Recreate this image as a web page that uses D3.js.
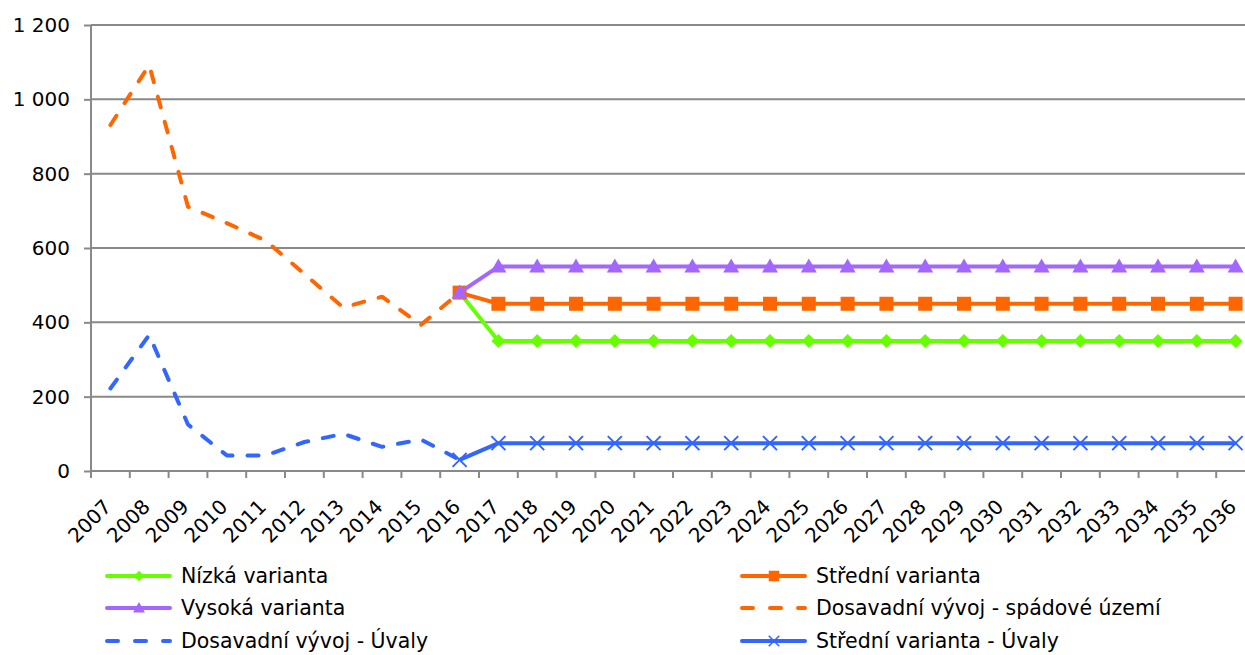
<!DOCTYPE html>
<html>
<head>
<meta charset="utf-8">
<script src="https://cdn.jsdelivr.net/npm/d3@7"></script>
<style>
  body { margin: 0; background: #fff; }
  svg { display: block; font-family: Verdana, "DejaVu Sans", sans-serif; }
</style>
</head>
<body>
<div id="chart"></div>
<script>
// Years on the category axis
const years = d3.range(2007, 2037).map(String);
const yTicks = [0, 200, 400, 600, 800, 1000, 1200];

// Historical series (2007-2016)
const histYears = years.slice(0, 10);
const spadoveUzemi = [931, 1092, 711, 667, 620, 530, 440, 469, 393, 480];
const uvalyHist = [222, 366, 125, 42, 42, 78, 100, 65, 85, 30];

// Projections (2016-2036)
const projYears = years.slice(9);
const nizka = [480].concat(Array(20).fill(350));
const stredni = [480].concat(Array(20).fill(450));
const vysoka = [480].concat(Array(20).fill(550));
const stredniUvaly = [30].concat(Array(20).fill(75));

const series = [
    { name: 'Nízká varianta', x: projYears, y: nizka, color: '#66FF00', dash: null, marker: 'diamond' },
    { name: 'Střední varianta', x: projYears, y: stredni, color: '#FF6600', dash: null, marker: 'square' },
    { name: 'Vysoká varianta', x: projYears, y: vysoka, color: '#A366FF', dash: null, marker: 'triangle' },
    { name: 'Dosavadní vývoj - spádové území', x: histYears, y: spadoveUzemi, color: '#FF6600', dash: '11,15', marker: null },
    { name: 'Dosavadní vývoj - Úvaly', x: histYears, y: uvalyHist, color: '#3366FF', dash: '11,15', marker: null },
    { name: 'Střední varianta - Úvaly', x: projYears, y: stredniUvaly, color: '#3366FF', dash: null, marker: 'cross' }
];

const width = 1245, height = 655;
const plot = { left: 91, right: 1255, top: 25, bottom: 471 };

const svg = d3.select('#chart').append('svg')
    .attr('width', width)
    .attr('height', height);

const x = d3.scaleBand().domain(years).range([plot.left, plot.right]);
const y = d3.scaleLinear().domain([0, 1200]).range([plot.bottom, plot.top]);

const fmt = v => d3.format(',')(v).replace(/,/g, ' ');

// Gridlines + y axis
const yAxis = svg.append('g')
    .attr('transform', `translate(${plot.left},0)`)
    .call(d3.axisLeft(y).tickValues(yTicks).tickFormat(fmt).tickSize(7).tickPadding(14));
yAxis.select('.domain').remove();
yAxis.selectAll('.tick line').attr('stroke', '#898989').attr('stroke-width', 2);
yAxis.selectAll('.tick text').attr('font-size', 20).attr('fill', '#000')
    .attr('font-family', 'Verdana, "DejaVu Sans", sans-serif');

svg.append('g').selectAll('line')
    .data(yTicks)
    .enter().append('line')
    .attr('x1', plot.left).attr('x2', plot.right)
    .attr('y1', d => y(d)).attr('y2', d => y(d))
    .attr('stroke', '#898989').attr('stroke-width', 2);

// vertical axis line
svg.append('line')
    .attr('x1', plot.left).attr('x2', plot.left)
    .attr('y1', plot.top).attr('y2', plot.bottom + 7)
    .attr('stroke', '#898989').attr('stroke-width', 2);

// x ticks at category boundaries
svg.append('g').selectAll('line')
    .data(years)
    .enter().append('line')
    .attr('x1', d => x(d) + x.bandwidth()).attr('x2', d => x(d) + x.bandwidth())
    .attr('y1', plot.bottom).attr('y2', plot.bottom + 7)
    .attr('stroke', '#898989').attr('stroke-width', 2);

// x labels
svg.append('g').selectAll('text')
    .data(years)
    .enter().append('text')
    .attr('transform', d => `translate(${x(d) + x.bandwidth() / 2 + 2},${plot.bottom + 37}) rotate(-45)`)
    .attr('text-anchor', 'end')
    .attr('font-size', 20)
    .text(d => d);

const cx = d => x(d) + x.bandwidth() / 2;

function drawMarker(g, type, color) {
    if (type === 'diamond') {
        g.append('path').attr('d', 'M0,-7L7,0L0,7L-7,0Z').attr('fill', color);
    } else if (type === 'square') {
        g.append('rect').attr('x', -7).attr('y', -7).attr('width', 14).attr('height', 14).attr('fill', color);
    } else if (type === 'triangle') {
        g.append('path').attr('d', 'M0,-8L8,6L-8,6Z').attr('fill', color);
    } else if (type === 'cross') {
        g.append('path').attr('d', 'M-7,-7L7,7M-7,7L7,-7')
            .attr('stroke', color).attr('stroke-width', 2).attr('fill', 'none');
    }
}

// Series
series.forEach(s => {
    const pts = s.x.map((yr, i) => [cx(yr), y(s.y[i])]);
    svg.append('path')
        .attr('d', d3.line()(pts))
        .attr('fill', 'none')
        .attr('stroke', s.color)
        .attr('stroke-width', 4)
        .attr('stroke-linecap', s.dash ? 'round' : 'butt')
        .attr('stroke-linejoin', 'round')
        .attr('stroke-dasharray', s.dash);
    if (s.marker) {
        pts.forEach(p => {
            const g = svg.append('g').attr('transform', `translate(${p[0]},${p[1]})`);
            drawMarker(g, s.marker, s.color);
        });
    }
});

// Legend
const legendRows = [576, 608, 641];
const legendCols = [105, 740];
series.forEach((s, i) => {
    const lx = legendCols[i % 2];
    const ly = legendRows[Math.floor(i / 2)];
    const g = svg.append('g');
    g.append('line')
        .attr('x1', lx + 2).attr('x2', lx + 65)
        .attr('y1', ly).attr('y2', ly)
        .attr('stroke', s.color).attr('stroke-width', 4)
        .attr('stroke-linecap', 'round')
        .attr('stroke-dasharray', s.dash ? '11,17' : null);
    if (s.marker) {
        const m = g.append('g').attr('transform', `translate(${lx + 34},${ly}) scale(0.75)`);
        drawMarker(m, s.marker, s.color);
    }
    g.append('text')
        .attr('x', lx + 76).attr('y', ly)
        .attr('dy', '0.35em')
        .attr('font-size', 20.5)
        .text(s.name);
});
</script>
</body>
</html>
